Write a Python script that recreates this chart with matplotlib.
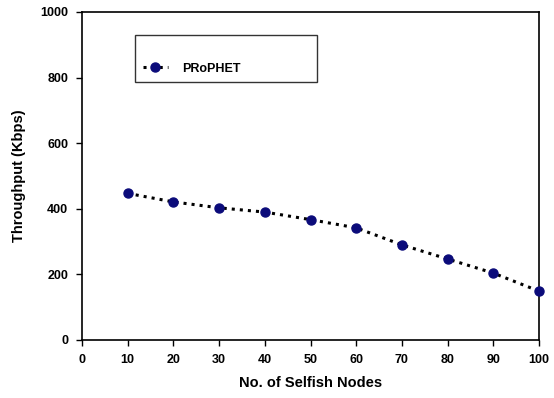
import matplotlib
matplotlib.use("Agg")
import matplotlib.pyplot as plt

# Données
noeuds_egoistes = [10, 20, 30, 40, 50, 60, 70, 80, 90, 100]
debit_prophet = [447, 421, 403, 390, 367, 342, 290, 247, 204, 149]
x_ticks = [0, 10, 20, 30, 40, 50, 60, 70, 80, 90, 100]
y_ticks = [0, 200, 400, 600, 800, 1000]

plt.rcParams['font.family'] = ['Liberation Sans', 'DejaVu Sans']
plt.rcParams['font.weight'] = 'bold'

fig = plt.figure(figsize=(5.54, 3.98), dpi=100)
ax = fig.add_axes([82 / 554, 1 - 340 / 398, (539 - 82) / 554, (340 - 12) / 398])

ax.plot(noeuds_egoistes, debit_prophet, linestyle=':', color='black', linewidth=2.2,
        marker='o', markersize=6.5, markerfacecolor='#0b0b7a', markeredgecolor='#0b0b7a',
        label='PRoPHET', clip_on=False, zorder=5)

ax.set_xlim(0, 100)
ax.set_ylim(0, 1000)
ax.set_xticks(x_ticks)
ax.set_yticks(y_ticks)
ax.tick_params(direction='out', length=4, width=1, labelsize=9, pad=6)
ax.tick_params(top=False, right=False)
for s in ax.spines.values():
    s.set_linewidth(1.2)

ax.set_xlabel('No. of Selfish Nodes', fontsize=10.5, fontweight='bold', labelpad=7)
ax.set_ylabel('Throughput (Kbps)', fontsize=10.5, fontweight='bold', labelpad=10)

leg = ax.legend(loc='upper left', bbox_to_anchor=(53 / 457, 1 - 71 / 328, 182 / 457, 48 / 328),
                mode='expand', title=' ', fontsize=9, frameon=True, fancybox=False,
                handlelength=2.0, borderaxespad=0, borderpad=0.6, handletextpad=1.2)
leg.get_frame().set_edgecolor('black')
leg.get_frame().set_linewidth(1.0)
leg._legend_box.align = 'left'

fig.savefig('out.png', dpi=100)
